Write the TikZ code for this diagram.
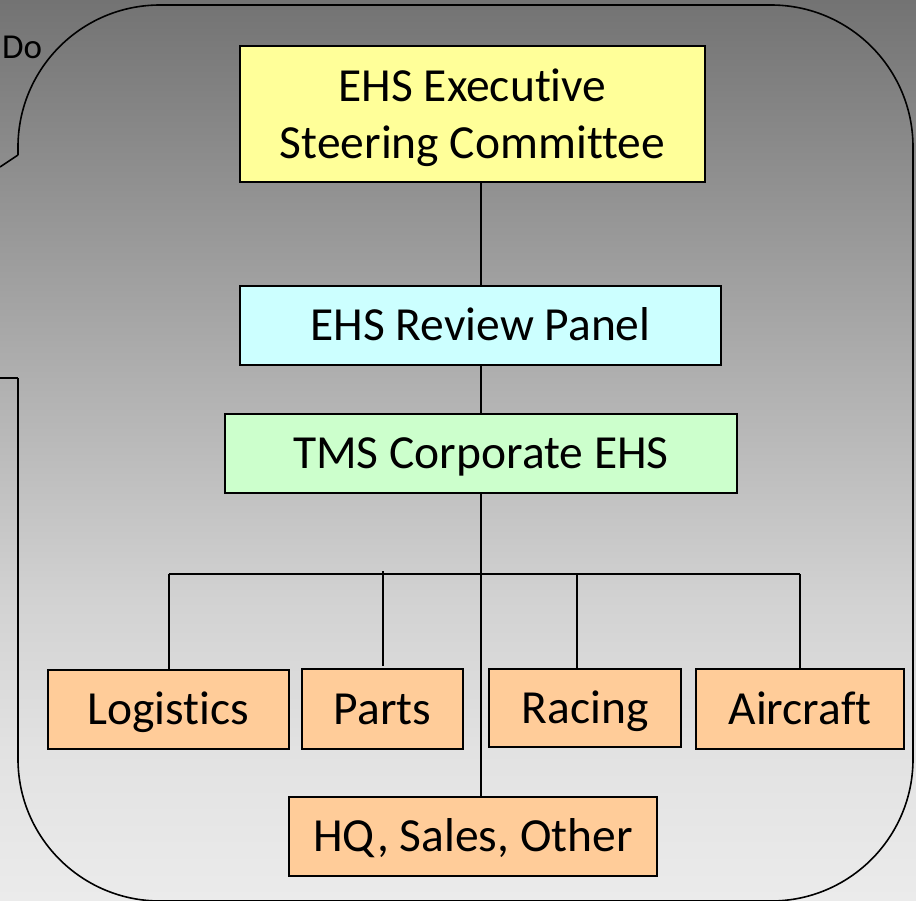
\documentclass[tikz,border=0pt]{standalone}
\usepackage{fontspec}
\setmainfont{Carlito}[Ligatures=NoCommon]
\definecolor{g0}{HTML}{737373}
\definecolor{g1}{HTML}{939393}
\definecolor{g2}{HTML}{B3B3B3}
\definecolor{g3}{HTML}{D2D2D2}
\definecolor{g4}{HTML}{E2E2E2}
\definecolor{g5}{HTML}{EBEBEB}
\definecolor{execfill}{HTML}{FFFF99}
\definecolor{reviewfill}{HTML}{CCFFFF}
\definecolor{tmsfill}{HTML}{CCFFCC}
\definecolor{unitfill}{HTML}{FFCC99}
\pgfdeclareverticalshading{bgshade}{100bp}{color(0bp)=(g5); color(25bp)=(g5); color(33.3bp)=(g4); color(41.7bp)=(g3); color(52.8bp)=(g2); color(63.9bp)=(g1); color(75bp)=(g0); color(100bp)=(g0)}
\tikzset{
  orgbox/.style={draw=black, line width=2pt, inner sep=0pt, align=center,
    font=\fontsize{47.5}{57}\selectfont, text height=30pt, text depth=0pt},
  link/.style={draw=black, line width=2pt},
  callout/.style={draw=black, line width=1.6pt},
}
\begin{document}
\begin{tikzpicture}[x=1pt,y=-1pt]
\useasboundingbox (0,0) rectangle (916,900);
\shade[shading=bgshade] (0,0) rectangle (916,900);
% callout outline
\draw[callout] (0,167) -- (18,155);
\draw[callout, rounded corners=142pt] (18,155) -- (18,5) -- (913,5) -- (913,901) -- (18,901) -- (18,378);
\draw[callout] (18,378) -- (0,378);
\node[anchor=base west, inner sep=0pt, font=\fontsize{35}{42}\selectfont] (do) at (2,58) {Do};
% boxes
\node[orgbox, fill=execfill, minimum width=465pt, minimum height=136pt, text height=, text depth=0pt] (exec) at (472.5,114) {EHS Executive\\Steering Committee};
\node[orgbox, fill=reviewfill, minimum width=481pt, minimum height=79pt] (review) at (480.5,325.5) {EHS Review Panel};
\node[orgbox, fill=tmsfill, minimum width=512pt, minimum height=79pt] (tms) at (481,453.5) {TMS Corporate EHS};
\node[orgbox, fill=unitfill, minimum width=241pt, minimum height=79pt] (logistics) at (168.5,709.5) {Logistics};
\node[orgbox, fill=unitfill, minimum width=161pt, minimum height=80pt] (parts) at (382.5,709) {Parts};
\node[orgbox, fill=unitfill, minimum width=192pt, minimum height=78pt] (racing) at (585,708) {Racing};
\node[orgbox, fill=unitfill, minimum width=208pt, minimum height=80pt] (aircraft) at (800,709) {Aircraft};
\node[orgbox, fill=unitfill, minimum width=368pt, minimum height=79pt] (hq) at (473,836.5) {HQ, Sales, Other};
% connectors
\coordinate (bus) at (481,574);
\coordinate (partstop) at (383,571);
\coordinate (partsend) at (383,666);
\coordinate (racingx) at (577,574);
\draw[link] (review.north) -- (review.north |- exec.south);
\draw[link] (review.south) -- (review.south |- tms.north);
\draw[link] (tms.south -| review.north) -- (hq.north -| review.north);
\draw[link] (logistics.north |- bus) -- (aircraft.north |- bus);
\draw[link] (logistics.north |- bus) -- (logistics.north);
\draw[link] (partstop) -- (partsend);
\draw[link] (racingx) -- (racingx |- racing.north);
\draw[link] (aircraft.north |- bus) -- (aircraft.north);
\end{tikzpicture}
\end{document}
